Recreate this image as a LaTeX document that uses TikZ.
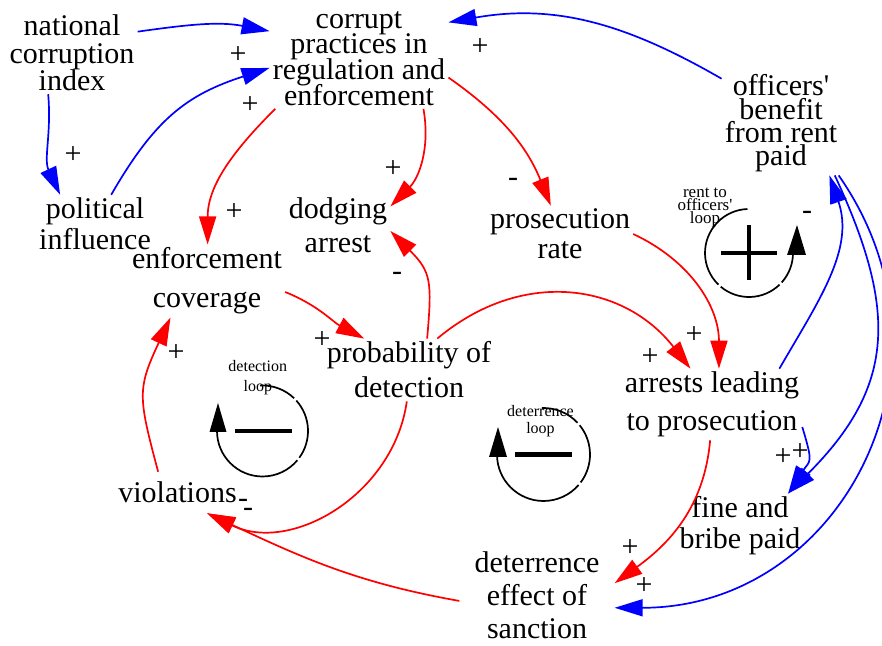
\documentclass[tikz,border=0pt]{standalone}
\usepackage{fontspec}
\setmainfont{Liberation Serif}
\usetikzlibrary{arrows.meta}
\lineskiplimit=-100pt

\tikzset{
  var/.style={font=\fontsize{30}{#1}\selectfont, align=center, inner sep=3pt},
  var/.default=30,
  sgn/.style={font=\fontsize{30}{30}\selectfont, inner sep=0pt},
  looplabel/.style={font=\fontsize{16}{#1}\selectfont, align=center, inner sep=0pt},
  looplabel/.default=17,
  redlink/.style={draw=red, line width=1.7pt, ->, >={Triangle[length=28pt,width=17pt]}},
  bluelink/.style={draw=blue, line width=1.7pt, ->, >={Triangle[length=28pt,width=17pt]}},
  loopline/.style={line width=1.7pt},
}

\begin{document}
\begin{tikzpicture}[x=1pt, y=1pt]
  \useasboundingbox (0,0) rectangle (882,645);

  % variables
  \node[var=27.5] (nci) at (72,592) {national\\corruption\\index};
  \node[var=25.7] (cpr) at (359,586.5) {corrupt\\practices in\\regulation and\\enforcement};
  \node[var=23.3] (obr) at (781,521.5) {officers\textquotesingle\\benefit\\from rent\\paid};
  \node[var=31] (pol) at (95,421) {political\\influence};
  \node[var=34] (dod) at (338,419.5) {dodging\\arrest};
  \node[var=30] (pro) at (560,411) {prosecution\\rate};
  \node[var=39] (enf) at (207,364) {enforcement\\coverage};
  \node[var=35] (prb) at (409,275) {probability of\\detection};
  \node[var=38] (arr) at (712,240.5) {arrests leading\\to prosecution};
  \node[var, inner ysep=10pt] (vio) at (177.5,152.5) {violations};
  \node[var=31] (fbp) at (740,119) {fine and\\bribe paid};
  \node[var=33, inner xsep=15pt] (det) at (537,49.5) {deterrence\\effect of\\sanction};

  % links
  \begin{scope}[bluelink]
    \draw (nci.18) to[out=8,in=169] (cpr.163);
    \draw (nci.240) to[out=275,in=115] (pol.140);
    \draw (pol.61) to[out=60,in=198,looseness=1.1] (cpr.186);
    \draw (obr.143) to[out=150,in=10] (cpr.22);
    \draw (arr.346) to[out=-73,in=57,looseness=1.5] (fbp.34);
    \draw (obr.316) to[out=-65,in=45,looseness=1.2] (fbp.34);
    \draw (obr.318) to[out=-55,in=0,looseness=1.2] (det.351);
    \draw (arr.28) to[out=60,in=289] (obr.313);
  \end{scope}
  \begin{scope}[redlink]
    \draw (cpr.211) to[out=225,in=90] (enf.89);
    \draw (cpr.322) to[out=280,in=45] (dod.20);
    \draw (cpr.348) to[out=-35,in=112] (pro.108);
    \draw (pro.360) to[out=-25,in=90] (arr.79);
    \draw (prb.48) to[out=40,in=128,looseness=1.1] (arr.121);
    \draw (prb.60) to[out=85,in=315,looseness=1.3] (dod.354);
    \draw (enf.352) to[out=-22,in=152] (prb.145);
    \draw (vio.133) to[out=105,in=245,looseness=1.3] (enf.225);
    \draw (prb.266) to[out=262,in=334,looseness=1.05] (vio.325);
    \draw (det.184) to[out=170,in=335] (vio.325);
    \draw (arr.267) to[out=265,in=36] (det.9);
  \end{scope}

  % polarities
  \node[sgn] (s-nci-cpr) at (238,590) {+};
  \node[sgn] (s-pol-cpr) at (250,540) {+};
  \node[sgn] (s-nci-pol) at (73,490) {+};
  \node[sgn] (s-cpr-dod) at (393,476) {+};
  \node[sgn] (s-cpr-enf) at (234,433) {+};
  \node[sgn] (s-prb-dod) at (397,369) {-};
  \node[sgn] (s-obr-cpr) at (480,598) {+};
  \node[sgn] (s-cpr-pro) at (513,463) {-};
  \node[sgn] (s-arr-obr) at (807,430) {-};
  \node[sgn] (s-vio-enf) at (176,292) {+};
  \node[sgn] (s-enf-prb) at (322,305) {+};
  \node[sgn] (s-prb-vio) at (243,142) {-};
  \node[sgn] (s-det-vio) at (248,133) {-};
  \node[sgn] (s-pro-arr) at (694,310) {+};
  \node[sgn] (s-prb-arr) at (650,288) {+};
  \node[sgn] (s-arr-fbp) at (783,188) {+};
  \node[sgn] (s-obr-fbp) at (800,193) {+};
  \node[sgn] (s-arr-det) at (630,97) {+};
  \node[sgn] (s-obr-det) at (644,59) {+};

  % detection loop
  \draw[loopline] (262.5,214) ++(180:45.5pt) arc[start angle=180,end angle=320,radius=45.5pt];
  \draw[loopline] (262.5,214) ++(324:45.5pt) arc[start angle=324,end angle=402,radius=45.5pt];
  \draw[loopline] (262.5,214) ++(406:45.5pt) arc[start angle=406,end angle=453,radius=45.5pt];
  \fill (209.5,213) -- (226.5,213) -- (218,242) -- cycle;
  \draw[line width=4.5pt] (235,214) -- (292,214);
  \node[looplabel=20] (detloop) at (257.8,267) {detection\\loop};

  % deterrence loop
  \draw[loopline] (543.5,190.5) ++(180:46.5pt) arc[start angle=180,end angle=319,radius=46.5pt];
  \draw[loopline] (543.5,190.5) ++(323:46.5pt) arc[start angle=323,end angle=399,radius=46.5pt];
  \draw[loopline] (543.5,190.5) ++(403:46.5pt) arc[start angle=403,end angle=452,radius=46.5pt];
  \fill (489,188) -- (507,188) -- (498,218) -- cycle;
  \draw[line width=4.5pt] (515,190.5) -- (572,190.5);
  \node[looplabel=17] (deterloop) at (540.5,224) {deterrence\\loop};

  % rent to officers' loop
  \draw[loopline] (749,392) ++(0:44pt) arc[start angle=0,end angle=-42,radius=44pt];
  \draw[loopline] (749,392) ++(-46:44pt) arc[start angle=-46,end angle=-130,radius=44pt];
  \draw[loopline] (749,392) ++(-134:44pt) arc[start angle=-134,end angle=-268,radius=44pt];
  \fill (787,390) -- (806,390) -- (797,420) -- cycle;
  \draw[line width=4.5pt] (721,392) -- (777,392);
  \draw[line width=4.5pt] (749,365) -- (749,420);
  \node[looplabel=13, font=\fontsize{17}{13}\selectfont] (rentloop) at (705,437) {rent to\\officers\textquotesingle\\loop};
\end{tikzpicture}
\end{document}
